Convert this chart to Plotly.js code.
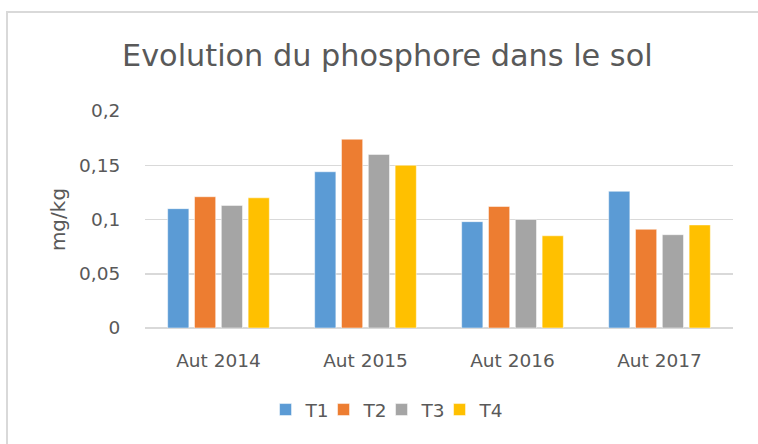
<!DOCTYPE html>
<html>
<head>
<meta charset="utf-8">
<script src="https://cdn.plot.ly/plotly-3.0.1.min.js"></script>
<style>
  html, body { margin: 0; padding: 0; background: #fff; }
  #wrap { position: relative; width: 758px; height: 444px; overflow: hidden; }
  #chart { position: absolute; left: 0; top: 0; width: 758px; height: 444px; }
  #frame { position: absolute; left: 6px; top: 11px; width: 800px; height: 500px;
           border-left: 2px solid #d9d9d9; border-top: 2px solid #d9d9d9; pointer-events: none; }
</style>
</head>
<body>
<div id="wrap">
  <div id="chart"></div>
  <div id="frame"></div>
</div>
<script>
const categories = ["Aut 2014", "Aut 2015", "Aut 2016", "Aut 2017"];
const seriesNames = ["T1", "T2", "T3", "T4"];
const T1 = [0.110, 0.144, 0.098, 0.126];
const T2 = [0.121, 0.174, 0.112, 0.091];
const T3 = [0.113, 0.160, 0.100, 0.086];
const T4 = [0.120, 0.150, 0.085, 0.095];
const yTickVals = [0, 0.05, 0.1, 0.15, 0.2];
const yTickText = ["0", "0,05", "0,1", "0,15", "0,2"];

const colors = ["#5b9bd5", "#ed7d31", "#a5a5a5", "#ffc000"];
const values = [T1, T2, T3, T4];
const FONT = "'DejaVu Sans', sans-serif";

const traces = values.map((v, i) => ({
  type: "bar",
  name: seriesNames[i],
  x: categories,
  y: v,
  marker: { color: colors[i], line: { color: "#ffffff", width: 0.5 } },
  hoverinfo: "skip"
}));
// invisible spacer legend entry so the last legend label is not clipped
traces.push({
  type: "scatter", mode: "markers", name: " ", x: [categories[0]], y: [null], showlegend: true,
  marker: { color: "rgba(0,0,0,0)", size: 1 }, hoverinfo: "skip"
});

const layout = {
  width: 758, height: 444,
  paper_bgcolor: "#ffffff", plot_bgcolor: "#ffffff",
  margin: { l: 145, r: 25, t: 111, b: 116 },
  font: { family: FONT, color: "#595959", size: 18.5 },
  title: { text: "Evolution du phosphore dans le sol", font: { family: FONT, size: 30.3, color: "#595959" },
           x: 0.511, xref: "container", xanchor: "center", y: 0.876, yref: "container", yanchor: "middle" },
  barmode: "group",
  bargap: 0.27,
  bargroupgap: 0.21,
  xaxis: {
    type: "category",
    showgrid: false, zeroline: false,
    showline: false,
    ticks: "outside", ticklen: 16, tickcolor: "rgba(0,0,0,0)",
    tickfont: { size: 18.5, color: "#595959" }
  },
  yaxis: {
    range: [0, 0.2],
    tickvals: yTickVals, ticktext: yTickText,
    showgrid: true, gridcolor: "#d9d9d9", gridwidth: 1.5,
    zeroline: true, zerolinecolor: "#d9d9d9", zerolinewidth: 1.5,
    showline: false,
    ticks: "outside", ticklen: 20, tickcolor: "rgba(0,0,0,0)",
    tickfont: { size: 18.5, color: "#595959" },
    title: { text: "mg/kg", font: { size: 20, color: "#595959" }, standoff: 8 }
  },
  legend: {
    orientation: "h", x: 0.205, xanchor: "left", y: -0.378, yanchor: "middle",
    font: { size: 18.5, color: "#595959" }, itemwidth: 30, entrywidth: 13, entrywidthmode: "pixels",
    traceorder: "normal"
  },
  showlegend: true
};

Plotly.newPlot("chart", traces, layout, { displayModeBar: false, staticPlot: true });
</script>
</body>
</html>
